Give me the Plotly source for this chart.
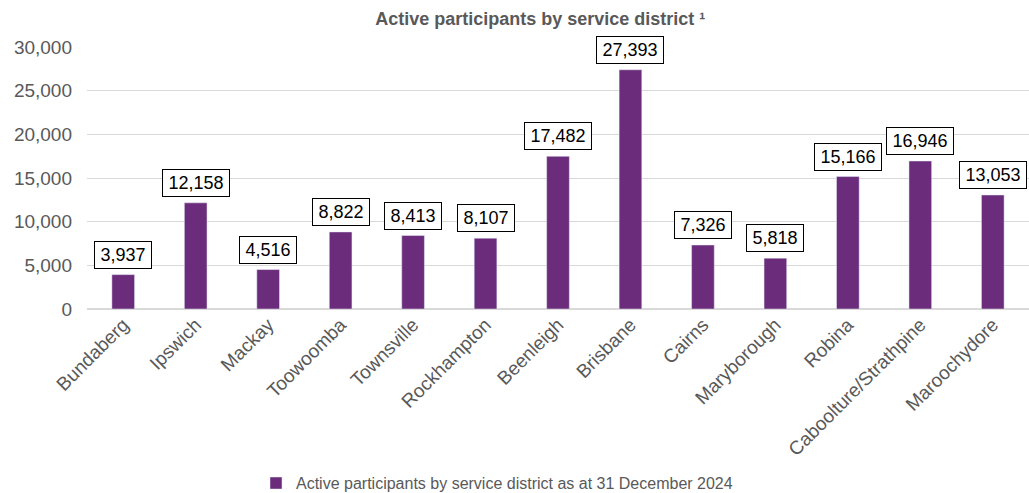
import plotly.graph_objects as go

districts = ["Bundaberg", "Ipswich", "Mackay", "Toowoomba", "Townsville", "Rockhampton",
             "Beenleigh", "Brisbane", "Cairns", "Maryborough", "Robina",
             "Caboolture/Strathpine", "Maroochydore"]
participants = [3937, 12158, 4516, 8822, 8413, 8107, 17482, 27393, 7326, 5818, 15166, 16946, 13053]
series_name = "Active participants by service district as at 31 December 2024"
title_text = "Active participants by service district \u00b9"

PURPLE = "#6B2C7B"
GREY = "#595959"
FONT = "Liberation Sans, Arial, sans-serif"
LABEL_SIZE = 18

fig = go.Figure()
fig.add_trace(go.Bar(
    x=districts, y=participants, name=series_name,
    marker=dict(color=PURPLE), showlegend=True,
))

def text_width(s, size):
    w = 0.0
    for ch in s:
        w += 0.278 if ch in ",." else 0.556
    return w * size

for d, v in zip(districts, participants):
    label = f"{v:,}"
    fig.add_annotation(
        x=d, y=v, text=label, showarrow=False,
        yanchor="bottom", yshift=6,
        width=round(text_width(label, LABEL_SIZE) + 5),
        font=dict(family=FONT, size=LABEL_SIZE, color="#000000"),
        bgcolor="white", bordercolor="#000000", borderwidth=1, borderpad=3,
    )

fig.update_layout(
    width=1029, height=493,
    margin=dict(l=87, r=0, t=47, b=184),
    paper_bgcolor="white", plot_bgcolor="white",
    font=dict(family=FONT, color=GREY),
    bargap=0.687,
    showlegend=True,
    title=dict(text=f"<b>{title_text}</b>", x=0.525, xanchor="center", xref="container",
               y=0.962, yanchor="middle", yref="container",
               font=dict(family=FONT, size=18, color=GREY)),
    legend=dict(orientation="h", x=0.483, xanchor="center", xref="container",
                y=0.02, yanchor="middle", yref="container",
                font=dict(family=FONT, size=16, color=GREY), itemwidth=30),
    xaxis=dict(tickangle=-45, tickfont=dict(family=FONT, size=19, color=GREY),
               showline=False, ticks=""),
    yaxis=dict(range=[0, 30000], dtick=5000, tickformat=",",
               tickfont=dict(family=FONT, size=19, color=GREY),
               showgrid=True, gridcolor="#D9D9D9", gridwidth=1,
               zeroline=True, zerolinecolor="#D9D9D9", ticks="", ticklabelstandoff=14),
)

fig.write_html("out.html")
